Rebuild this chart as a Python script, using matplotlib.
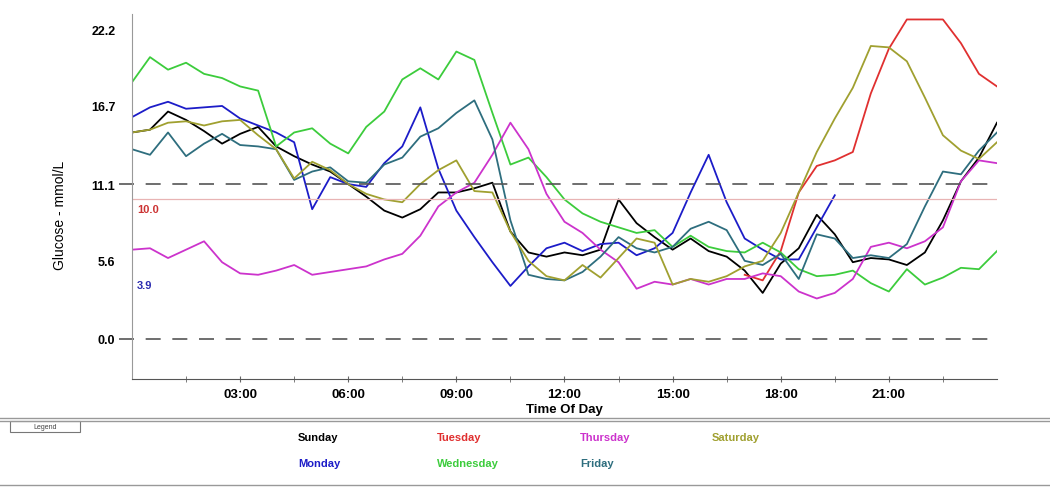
import numpy as np
import matplotlib.pyplot as plt

nan = float('nan')

# time of day in hours, half-hour readings
hours = np.arange(0, 24.5, 0.5)

sunday = [14.8, 15.0, 16.3, 15.7, 14.9, 14.0, 14.7, 15.2, 13.8, 13.1,
          12.5, 12.0, 11.1, 10.2, 9.2, 8.7, 9.3, 10.5, 10.5, 10.8,
          11.2, 7.7, 6.2, 5.9, 6.2, 6.0, 6.4, 10.0, 8.3, 7.3,
          6.4, 7.2, 6.3, 5.9, 4.9, 3.3, 5.4, 6.5, 8.9, 7.5,
          5.5, 5.8, 5.7, 5.3, 6.2, 8.5, 11.3, 13.0, 15.5]
monday = [15.9, 16.6, 17.0, 16.5, 16.6, 16.7, 15.8, 15.3, 14.8, 14.1,
          9.3, 11.6, 11.1, 10.9, 12.6, 13.8, 16.6, 12.2, 9.2, 7.3,
          5.5, 3.8, 5.2, 6.5, 6.9, 6.3, 6.8, 6.9, 6.0, 6.5,
          7.6, 10.5, 13.2, 9.8, 7.2, 6.4, 5.7, 5.7, 8.0, 10.3,
          nan, nan, nan, nan, nan, nan, nan, nan, nan]
tuesday = [nan] * 34 + [4.6, 4.2, 6.3, 10.5, 12.4, 12.8, 13.4, 17.6, 20.8,
                        22.9, 22.9, 22.9, 21.2, 19.0, 18.1]
wednesday = [18.4, 20.2, 19.3, 19.8, 19.0, 18.7, 18.1, 17.8, 13.8, 14.8,
             15.1, 14.0, 13.3, 15.2, 16.3, 18.6, 19.4, 18.6, 20.6, 20.0,
             16.2, 12.5, 13.0, 11.6, 10.0, 9.0, 8.4, 8.0, 7.6, 7.8,
             6.6, 7.4, 6.6, 6.3, 6.2, 6.9, 6.2, 5.0, 4.5, 4.6,
             4.9, 4.0, 3.4, 5.0, 3.9, 4.4, 5.1, 5.0, 6.3]
thursday = [6.4, 6.5, 5.8, 6.4, 7.0, 5.5, 4.7, 4.6, 4.9, 5.3,
            4.6, 4.8, 5.0, 5.2, 5.7, 6.1, 7.4, 9.5, 10.5, 11.2,
            13.2, 15.5, 13.6, 10.4, 8.4, 7.6, 6.4, 5.5, 3.6, 4.1,
            3.9, 4.3, 3.9, 4.3, 4.3, 4.7, 4.5, 3.4, 2.9, 3.3,
            4.3, 6.6, 6.9, 6.5, 7.0, 8.0, 11.3, 12.8, 12.6]
friday = [13.6, 13.2, 14.8, 13.1, 14.0, 14.7, 13.9, 13.8, 13.6, 11.4,
          12.0, 12.3, 11.3, 11.2, 12.5, 13.0, 14.5, 15.1, 16.2, 17.1,
          14.3, 8.5, 4.6, 4.3, 4.2, 4.8, 5.9, 7.3, 6.5, 6.2,
          6.6, 7.9, 8.4, 7.8, 5.6, 5.3, 6.1, 4.3, 7.5, 7.2,
          5.8, 6.0, 5.8, 6.8, 9.5, 12.0, 11.8, 13.5, 14.8]
saturday = [14.8, 15.0, 15.5, 15.6, 15.3, 15.6, 15.7, 14.6, 13.6, 11.5,
            12.7, 12.1, 11.1, 10.4, 10.0, 9.8, 11.1, 12.1, 12.8, 10.6,
            10.5, 7.7, 5.6, 4.5, 4.2, 5.3, 4.4, 5.8, 7.2, 6.9,
            3.9, 4.3, 4.1, 4.5, 5.2, 5.6, 7.6, 10.5, 13.4, 15.8,
            18.0, 21.0, 20.9, 19.9, 17.3, 14.6, 13.5, 12.9, 14.1]

days = ['Sunday', 'Monday', 'Tuesday', 'Wednesday', 'Thursday', 'Friday', 'Saturday']
series = [sunday, monday, tuesday, wednesday, thursday, friday, saturday]
colors = ['#000000', '#1c1cc8', '#e03030', '#3ccc3c', '#cc33cc', '#2e6e7e', '#a0a030']

y_ticks = [0.0, 5.6, 11.1, 16.7, 22.2]
x_ticks = [3, 6, 9, 12, 15, 18, 21]
x_labels = ['03:00', '06:00', '09:00', '12:00', '15:00', '18:00', '21:00']
high_limit = 11.1
target_high = 10.0
target_low = 3.9

plt.rcParams['font.family'] = ['Liberation Sans', 'DejaVu Sans']

fig = plt.figure(figsize=(10.5, 4.89), dpi=100)
ax = fig.add_axes([0.1257, 0.2229, 0.8238, 0.7461])

for vals, c in zip(series, colors):
    ax.plot(hours, vals, color=c, lw=1.3)

# limit lines, dashed ones poke out past the axis
ytr = ax.get_yaxis_transform()
for lvl in [high_limit, 0.0]:
    ax.plot([-0.015, 1.0], [lvl, lvl], transform=ytr, clip_on=False,
            color='#555555', lw=1.2, dashes=(9, 7))
ax.axhline(target_high, color='#e8b4b4', lw=0.9)
ax.text(0.006, target_high - 0.35, '%.1f' % target_high, transform=ytr,
        color='#cc3333', fontsize=8, fontweight='bold', va='top')
ax.text(0.006, target_low, '%.1f' % target_low, transform=ytr,
        color='#2b2bb0', fontsize=8, fontweight='bold', va='center')

ax.set_xlim(0, 24)
ax.set_ylim(-2.87, 23.28)
ax.set_yticks(y_ticks)
ax.set_yticklabels(['%.1f' % v for v in y_ticks], fontsize=9, fontweight='bold')
ax.tick_params(axis='y', length=0, pad=12)
ax.set_xticks(x_ticks)
ax.set_xticklabels(x_labels, fontsize=9.5, fontweight='bold')
ax.set_xticks(np.arange(1.5, 24, 3), minor=True)
ax.tick_params(axis='x', which='both', direction='inout', length=5, color='#666666', pad=4)
for s in ['top', 'right']:
    ax.spines[s].set_visible(False)
ax.spines['left'].set_color('#999999')
ax.spines['bottom'].set_color('#555555')
ax.set_xlabel('Time Of Day', fontsize=9.5, fontweight='bold', labelpad=2)
fig.text(60 / 1050, 1 - 215 / 489, 'Glucose - mmol/L', rotation=90,
         ha='center', va='center', fontsize=10)

# legend panel below the chart
fig.add_artist(plt.Line2D([0, 1], [1 - 419 / 489] * 2, color='#999999', lw=1))
fig.add_artist(plt.Line2D([0, 1], [1 - 422 / 489] * 2, color='#999999', lw=1))
fig.add_artist(plt.Line2D([0, 1], [1 - 486 / 489] * 2, color='#999999', lw=1))
fig.add_artist(plt.Rectangle((10 / 1050, 1 - 433 / 489), 70 / 1050, 11 / 489,
                             fill=False, edgecolor='#777777', lw=0.8))
fig.text(45 / 1050, 1 - 427.5 / 489, 'Legend', fontsize=5, ha='center', va='center',
         color='#444444')

col_x = [298, 437, 580, 712]
row_y = [438, 464]
for i, (d, c) in enumerate(zip(days, colors)):
    fig.text(col_x[i // 2] / 1050, 1 - row_y[i % 2] / 489, d, color=c,
             fontsize=8, fontweight='bold', va='center')

fig.savefig('out.png', dpi=100)
